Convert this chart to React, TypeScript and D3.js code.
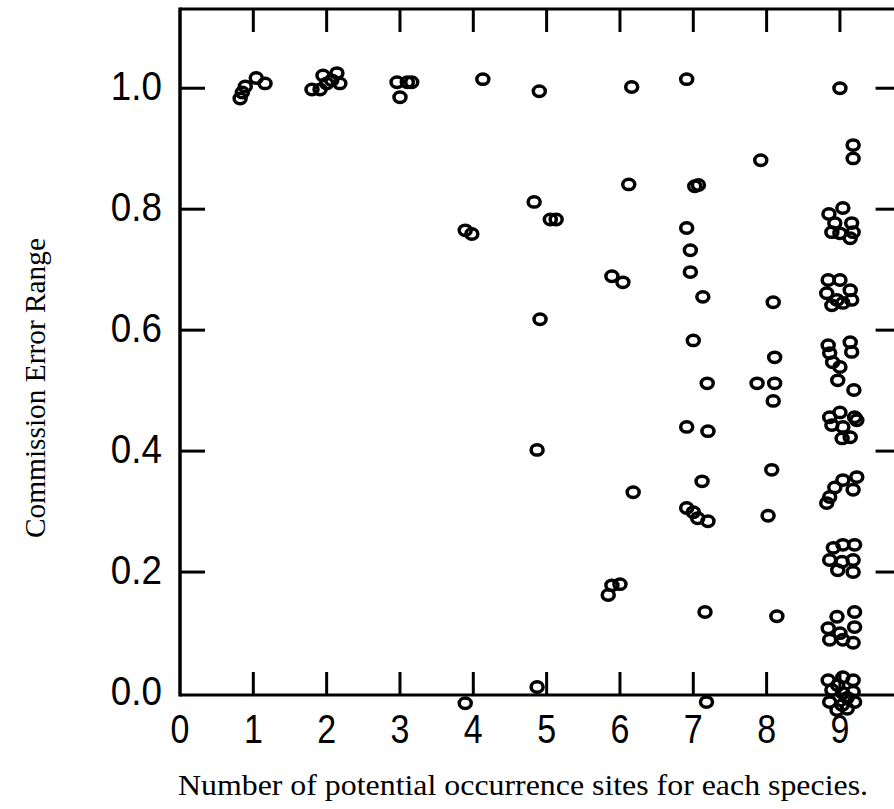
import React from "react";
import * as d3 from "d3";

// jittered x (number of sites), y (commission error range)
const sites1: [number, number][] = [
  [0.82, 0.983], [0.85, 0.993], [0.89, 1.003], [1.04, 1.017], [1.16, 1.008],
];
const sites2: [number, number][] = [
  [1.8, 0.998], [1.91, 0.998], [1.95, 1.021], [2.0, 1.008], [2.14, 1.025],
  [2.18, 1.008], [2.07, 1.013],
];
const sites3: [number, number][] = [
  [2.96, 1.01], [3.1, 1.01], [3.16, 1.01], [3.0, 0.985],
];
const sites4: [number, number][] = [
  [3.89, 0.765], [3.98, 0.759], [4.13, 1.015], [3.89, -0.017],
];
const sites5: [number, number][] = [
  [4.9, 0.995], [4.83, 0.812], [5.05, 0.783], [5.13, 0.783], [4.91, 0.618],
  [4.87, 0.402], [4.87, 0.01],
];
const sites6: [number, number][] = [
  [6.16, 1.002], [6.12, 0.841], [5.89, 0.689], [6.04, 0.679], [6.18, 0.332],
  [5.89, 0.178], [6.0, 0.18], [5.84, 0.162],
];
const sites7: [number, number][] = [
  [6.91, 1.015], [7.02, 0.838], [7.07, 0.84], [6.91, 0.769], [6.96, 0.732],
  [6.96, 0.696], [7.13, 0.655], [7.0, 0.583], [7.19, 0.512], [6.91, 0.44],
  [7.2, 0.433], [7.12, 0.35], [6.91, 0.306], [7.0, 0.299], [7.06, 0.289],
  [7.2, 0.284], [7.16, 0.134], [7.18, -0.015],
];
const sites8: [number, number][] = [
  [7.92, 0.881], [8.09, 0.646], [8.11, 0.555], [7.87, 0.512], [8.11, 0.512],
  [8.09, 0.483], [8.07, 0.369], [8.02, 0.293], [8.14, 0.127],
];
const sites9: [number, number][] = [
  [9.0, 1.0], [9.18, 0.906], [9.18, 0.884],
  [8.85, 0.792], [9.04, 0.802], [9.16, 0.777], [8.93, 0.777], [9.0, 0.76],
  [9.14, 0.752], [8.89, 0.762], [9.18, 0.762],
  [8.84, 0.683], [9.0, 0.683], [8.82, 0.661], [8.96, 0.65], [9.14, 0.666],
  [9.16, 0.65], [8.89, 0.641], [9.04, 0.645],
  [8.84, 0.575], [9.14, 0.58], [9.16, 0.564], [8.86, 0.562], [8.9, 0.547],
  [9.0, 0.539], [8.97, 0.517], [9.19, 0.501],
  [8.86, 0.456], [9.0, 0.464], [9.2, 0.456], [8.89, 0.443], [9.04, 0.44],
  [9.14, 0.423], [9.03, 0.421], [9.23, 0.451],
  [9.23, 0.357], [9.04, 0.352], [8.93, 0.34], [9.18, 0.336], [8.86, 0.324],
  [8.82, 0.314],
  [8.91, 0.24], [9.04, 0.245], [9.2, 0.245], [8.86, 0.22], [9.03, 0.217],
  [9.18, 0.22], [8.97, 0.203], [9.18, 0.2],
  [8.96, 0.126], [9.2, 0.134], [8.84, 0.107], [9.0, 0.099], [9.2, 0.109],
  [8.86, 0.088], [9.04, 0.088], [9.18, 0.083],
  [8.84, 0.021], [9.04, 0.026], [9.18, 0.021], [8.89, 0.005], [9.04, 0.0],
  [9.18, 0.002], [8.97, 0.013], [9.1, -0.008], [8.86, -0.015], [9.03, -0.02],
  [9.2, -0.015], [8.96, -0.028], [9.1, -0.026],
];

const xTicks = [0, 1, 2, 3, 4, 5, 6, 7, 8, 9];
const yTicks = [0, 0.2, 0.4, 0.6, 0.8, 1.0];

const xTitle = "Number of potential occurrence sites for each species.";
const yTitle = "Commission Error Range";

const W = 894;
const H = 809;

export default function App() {
  const points = [
    ...sites1, ...sites2, ...sites3, ...sites4, ...sites5,
    ...sites6, ...sites7, ...sites8, ...sites9,
  ];

  const x = d3.scaleLinear().domain([0, 9.8]).range([180, 898.6]);
  const y = d3.scaleLinear().domain([-0.0033, 1.131]).range([695, 9]);

  const left = x(0);
  const right = x(9.8);
  const top = y(1.131);
  const bottom = y(-0.0033);
  const tick = 23;
  const labelFont = "'Liberation Sans', Arial, sans-serif";
  const titleFont = "'Liberation Serif', 'Times New Roman', serif";

  return (
    <svg
      width={W}
      height={H}
      style={{ position: "absolute", left: 0, top: 0, background: "#fff" }}
    >
      {/* frame */}
      <g stroke="#000" strokeWidth={3} fill="none">
        <line x1={left} x2={right} y1={top} y2={top} />
        <line x1={left} x2={right} y1={bottom} y2={bottom} />
        <line x1={left} x2={left} y1={top - 1.5} y2={bottom + 1.5} strokeWidth={3.5} />
        <line x1={right} x2={right} y1={top} y2={bottom} />
      </g>

      {/* x ticks, top and bottom, pointing inward */}
      <g stroke="#000" strokeWidth={3}>
        {xTicks.filter((t) => t > 0).map((t) => (
          <g key={t}>
            <line x1={x(t)} x2={x(t)} y1={top} y2={top + tick} />
            <line x1={x(t)} x2={x(t)} y1={bottom} y2={bottom - tick} />
          </g>
        ))}
      </g>

      {/* y ticks, left and right */}
      <g stroke="#000" strokeWidth={3}>
        {yTicks.filter((t) => t > 0).map((t) => (
          <g key={t}>
            <line x1={left} x2={left + tick + 2} y1={y(t)} y2={y(t)} />
            <line x1={right} x2={right - tick} y1={y(t)} y2={y(t)} />
          </g>
        ))}
      </g>

      {/* tick labels */}
      <g fontFamily={labelFont} fontSize={40} fill="#000">
        {xTicks.map((t) => (
          <text
            key={t}
            textAnchor="middle"
            transform={`translate(${x(t)},743) scale(0.85,1)`}
          >
            {t}
          </text>
        ))}
        {yTicks.map((t) => (
          <text
            key={t}
            textAnchor="end"
            transform={`translate(162,${y(t) + 12}) scale(0.92,1)`}
          >
            {d3.format(".1f")(t)}
          </text>
        ))}
      </g>

      {/* points */}
      <g fill="none" stroke="#000" strokeWidth={3.5}>
        {points.map(([px, py], i) => (
          <ellipse key={i} cx={x(px)} cy={y(py)} rx={6} ry={5.2} />
        ))}
      </g>

      {/* axis titles */}
      <text
        x={523}
        y={795}
        textAnchor="middle"
        fontFamily={titleFont}
        fontSize={30}
        textLength={690}
        lengthAdjust="spacingAndGlyphs"
      >
        {xTitle}
      </text>
      <text
        transform="translate(45,388) rotate(-90)"
        textAnchor="middle"
        fontFamily={titleFont}
        fontSize={30}
        textLength={300}
        lengthAdjust="spacingAndGlyphs"
      >
        {yTitle}
      </text>
    </svg>
  );
}
